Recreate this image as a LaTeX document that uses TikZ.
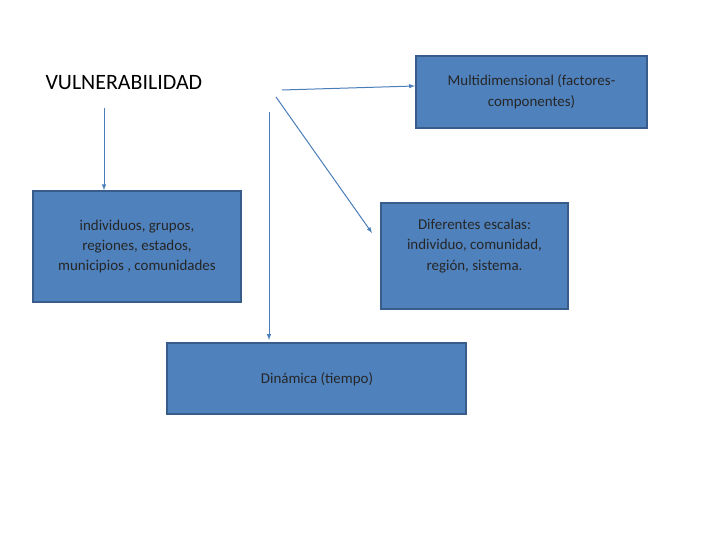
\documentclass[tikz,border=0pt]{standalone}
\usepackage{fontspec}
\setmainfont{Carlito}
\usetikzlibrary{positioning}
\definecolor{boxblue}{HTML}{4F81BD}
\definecolor{boxline}{HTML}{385D8A}
\definecolor{arrowblue}{HTML}{4A7EBB}
\tikzset{
  bluebox/.style={fill=boxblue,draw=boxline,line width=1.5bp,inner sep=0pt,
    align=center,font=\fontsize{15}{20.5}\selectfont,text=black!85},
  flecha/.style={draw=arrowblue,line width=1bp,-latex}
}
\begin{document}
\begin{tikzpicture}[x=1bp,y=-1bp]
\useasboundingbox (0,0) rectangle (720,540);
% Titulo
\node[anchor=west,font=\fontsize{22}{26}\selectfont]at(42,83)(vuln){VULNERABILIDAD};
% Cajas
\node[bluebox,minimum width=231bp,minimum height=72bp]at(531.5,92)(multi){};
\node[align=center,font=\fontsize{15}{21}\selectfont,text=black!85]at(531.5,92)(multi_txt){Multidimensional (factores-\\componentes)};
\node[bluebox,minimum width=208bp,minimum height=111bp]at(137,246.5)(indiv){individuos, grupos,\\regiones, estados,\\municipios , comunidades};
\node[bluebox,minimum width=187bp,minimum height=106bp]at(474.5,256)(escalas){};
\node[align=center,font=\fontsize{15}{20.5}\selectfont,text=black!85]at(474.5,246)(escalas_txt){Diferentes escalas:\\individuo, comunidad,\\región, sistema.};
\node[bluebox,minimum width=299bp,minimum height=71bp]at(316.5,378.5)(dinam){};
\node[font=\fontsize{15}{20}\selectfont,text=black!85]at(317,379)(dinam_txt){Dinámica (tiempo)};
% Puntos de salida y llegada
\coordinate (s1) at (282,90);
\coordinate (s2) at (104,108);
\coordinate (s3) at (276,97);
\coordinate (s4) at (269,112);
\coordinate (e1) at (415,86);
\coordinate (e3) at (372,233);
\coordinate (e4) at (269,340);
% Flechas
\draw[flecha](s1) to (e1);
\draw[flecha](s2) to (indiv.north -| s2);
\draw[flecha](s3) to (e3);
\draw[flecha](s4) to (e4);
\end{tikzpicture}
\end{document}
